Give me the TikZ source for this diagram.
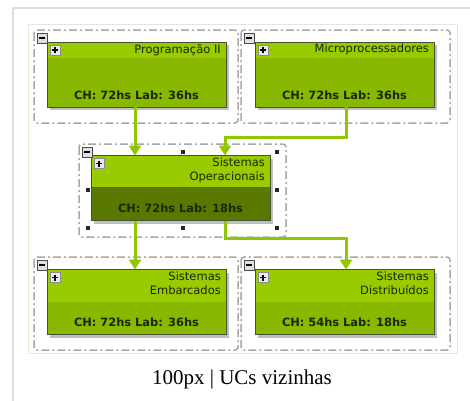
\documentclass[tikz,border=0pt]{standalone}
\usepackage{fontspec}
\setmainfont{Liberation Serif}
\newfontfamily\ucfont{DejaVu Sans}
\usetikzlibrary{arrows.meta,calc}
\definecolor{hdr}{HTML}{99CC00}
\definecolor{bdy}{HTML}{88B800}
\definecolor{bdysel}{HTML}{5A7800}
\definecolor{arrc}{HTML}{8EC600}
\definecolor{txt}{HTML}{1C2600}
\definecolor{grp}{HTML}{A8A8A8}
\definecolor{frame}{HTML}{DDDDDD}
\definecolor{inner}{HTML}{E6E9D6}
\tikzset{
  ucbox/.style={draw=txt!80, line width=0.8pt, fill=bdy, minimum width=179pt, minimum height=65pt, inner sep=0pt, outer sep=0pt},
  grpbox/.style={draw=grp, line width=1.5pt, rounded corners=3pt, dash pattern=on 8pt off 3pt on 2pt off 3pt},
  arr/.style={draw=arrc, line width=3pt, -{Triangle[width=12pt,length=10pt]}},
  ttl/.style={font=\ucfont\fontsize{11.5}{14}\selectfont, text=txt, align=right, anchor=north east, inner sep=0pt},
  chl/.style={font=\ucfont\bfseries\fontsize{11.4}{13}\selectfont, text=txt, inner sep=0pt},
  minusbtn/.style={draw=black!70, fill=black!12, line width=0.6pt, minimum size=10pt, inner sep=0pt},
  plusbtn/.style={draw=black!45, fill=white!92!black, line width=0.6pt, minimum size=10pt, inner sep=0pt},
  handle/.style={fill=black!85, minimum size=4pt, inner sep=0pt},
}
\newcommand{\ucnode}[6]{% name, cx, cy, header height, body color, title
  \fill[black!25] (#2-89.5+3,#3-32.5+3) rectangle (#2+89.5+3,#3+32.5+3);
  \node[ucbox, fill=#5] (#1) at (#2,#3) {};
  \fill[hdr] ($(#1.north west)+(0.4,0.4)$) rectangle ($(#1.north east)+(-0.4,#4)$);
  \draw[txt!80, line width=0.8pt] (#1.north west) rectangle (#1.south east);
  \node[ttl] (#1-t) at ($(#1.north east)+(-5,2)$) {#6};
  \node[plusbtn] (#1-p) at ($(#1.north west)+(8,8)$) {};
  \draw[black, line width=1.2pt] ($(#1-p.center)+(-3,0)$) -- ($(#1-p.center)+(3,0)$)
    ($(#1-p.center)+(0,-3)$) -- ($(#1-p.center)+(0,3)$);
}
\begin{document}
\begin{tikzpicture}[x=1pt,y=-1pt]
\useasboundingbox (0,0) rectangle (470,400);
\fill[white] (0,0) rectangle (470,400);
% outer frame
\draw[frame, line width=2pt] (13,401) -- (13,8) -- (471,8);
\draw[inner, line width=1pt] (28,24) rectangle (457,353);
% groups
\draw[grpbox] (34,30) rectangle (238,123);
\draw[grpbox] (241,30) rectangle (450,123);
\draw[grpbox] (79,144) rectangle (286,237);
\draw[grpbox] (34,257) rectangle (238,350);
\draw[grpbox] (241,257) rectangle (450,350);
% minus buttons
\foreach \n/\x/\y in {m1/42/38, m2/249/38, m4/42/265, m5/249/265}{
  \node[minusbtn] (\n) at (\x,\y) {};
  \draw[black, line width=1.2pt] ($(\n.center)+(-3,0)$) -- ($(\n.center)+(3,0)$);
}
% nodes
\ucnode{prog}{136.5}{74.5}{16}{bdy}{Programação II}
\ucnode{micro}{344.5}{74.5}{16}{bdy}{Microprocessadores}
\ucnode{so}{180.5}{188}{31}{bdysel}{Sistemas\\Operacionais}
\ucnode{emb}{136.5}{302}{32}{bdy}{Sistemas\\Embarcados}
\ucnode{dist}{344.5}{302}{32}{bdy}{Sistemas\\Distribuídos}
\node[chl] at ($(prog.south)+(0,-12)$) {CH: 72hs Lab: 36hs};
\node[chl] at ($(micro.south)+(0,-12)$) {CH: 72hs Lab: 36hs};
\node[chl] at ($(so.south)+(0,-12)$) {CH: 72hs Lab: 18hs};
\node[chl] at ($(emb.south)+(0,-12)$) {CH: 72hs Lab: 36hs};
\node[chl] at ($(dist.south)+(0,-12)$) {CH: 54hs Lab: 18hs};
% selection handles
\foreach \x in {88,183,277}{
  \foreach \y in {152,228}{\node[handle] at (\x,\y) {};}
}
\node[handle] at (88,190) {};
\node[handle] at (277,190) {};
\node[minusbtn] (m3) at (87,152) {};
\draw[black, line width=1.2pt] ($(m3.center)+(-3,0)$) -- ($(m3.center)+(3,0)$);
% connectors
\coordinate (a2) at (225,137);
\coordinate (a4) at (225,238);
\draw[arr] (prog.south -| 135,0) -- (so.north -| 135,0);
\draw[arr] (micro.south -| 346,0) |- (a2) -- (so.north -| a2);
\draw[arr] (so.south -| 135,0) -- (emb.north -| 135,0);
\draw[arr] (so.south -| a4) -- (a4) -| (dist.north -| 346,0);
% caption
\node[font=\fontsize{21}{24}\selectfont, inner sep=0pt] (cap) at (242,379) {100px | UCs vizinhas};
\end{tikzpicture}
\end{document}
